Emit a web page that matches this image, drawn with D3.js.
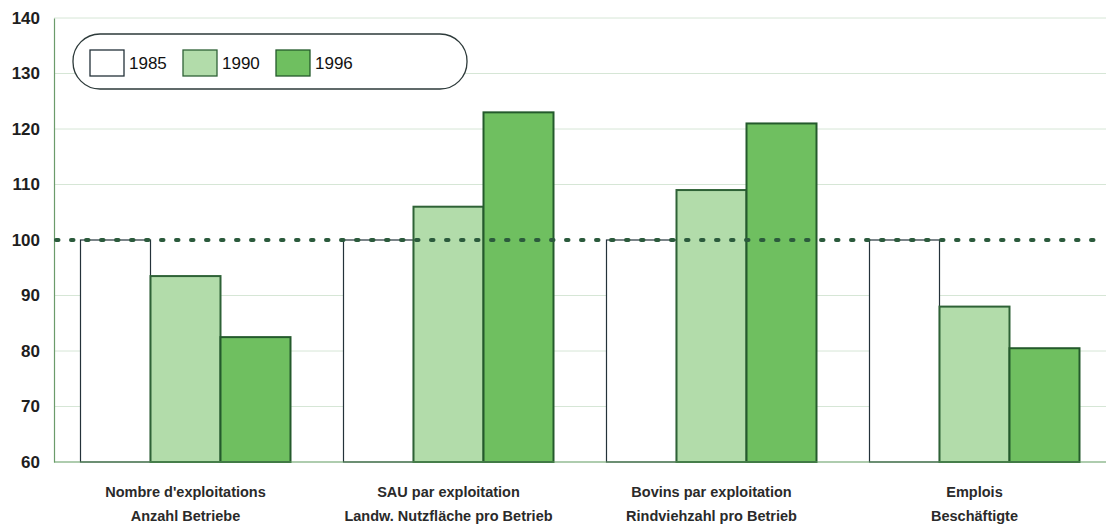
<!DOCTYPE html>
<html>
<head>
<meta charset="utf-8">
<script src="https://cdn.jsdelivr.net/npm/d3@7"></script>
<style>
  body { margin: 0; background: #fff; }
  svg { display: block; font-family: "Liberation Sans", Arial, sans-serif; }
</style>
</head>
<body>
<div id="chart"></div>
<script>
var categories = [
  ["Nombre d'exploitations", "Anzahl Betriebe"],
  ["SAU par exploitation", "Landw. Nutzfläche pro Betrieb"],
  ["Bovins par exploitation", "Rindviehzahl pro Betrieb"],
  ["Emplois", "Beschäftigte"]
];
var years = ["1985", "1990", "1996"];
var values1985 = [100, 100, 100, 100];
var values1990 = [93.5, 106, 109, 88];
var values1996 = [82.5, 123, 121, 80.5];
var yTicks = [60, 70, 80, 90, 100, 110, 120, 130, 140];

var width = 1106, height = 529;
var mLeft = 54, mRight = 1106, mTop = 18, mBottom = 462;

var colors = { "1985": "#ffffff", "1990": "#b2dcaa", "1996": "#6fbf60" };
var strokes = { "1985": "#24323a", "1990": "#2e6236", "1996": "#245a2c" };

var series = [values1985, values1990, values1996];
var data = categories.map(function (c, i) {
  return { label: c, vals: years.map(function (y, j) { return { year: y, v: series[j][i] }; }) };
});

var svg = d3.select("#chart").append("svg")
  .attr("width", width).attr("height", height);

var y = d3.scaleLinear().domain([60, 140]).range([mBottom, mTop]);
var x0 = d3.scaleBand().domain(d3.range(categories.length)).range([mLeft, mRight]);
var x1 = d3.scaleBand().domain(years).range([26.5, x0.bandwidth() - 26.5]).padding(0);

// faint grid
svg.append("g").selectAll("line")
  .data(yTicks.filter(function (t) { return t !== 60 && t !== 100; }))
  .join("line")
  .attr("x1", mLeft).attr("x2", mRight)
  .attr("y1", function (d) { return y(d); }).attr("y2", function (d) { return y(d); })
  .attr("stroke", "#d6e6d6").attr("stroke-width", 1);

// y axis
var yAxis = svg.append("g")
  .attr("transform", "translate(" + mLeft + ",0)")
  .call(d3.axisLeft(y).tickValues(yTicks).tickSize(0).tickPadding(14));
yAxis.select(".domain").attr("stroke", "#6b9b6b").attr("stroke-width", 1.2);
yAxis.selectAll("text")
  .attr("font-size", 17).attr("font-weight", "bold").attr("fill", "#1e1e1e")
  .attr("font-family", "Liberation Sans, Arial, sans-serif");

// bars
var groups = svg.append("g").selectAll("g")
  .data(data).join("g")
  .attr("transform", function (d, i) { return "translate(" + x0(i) + ",0)"; });

groups.selectAll("rect")
  .data(function (d) { return d.vals; })
  .join("rect")
  .attr("x", function (d) { return x1(d.year); })
  .attr("width", x1.bandwidth())
  .attr("y", function (d) { return y(d.v); })
  .attr("height", function (d) { return y(60) - y(d.v); })
  .attr("fill", function (d) { return colors[d.year]; })
  .attr("stroke", function (d) { return strokes[d.year]; })
  .attr("stroke-width", function (d) { return d.year === "1985" ? 1.2 : 2; });

// baseline
svg.append("line")
  .attr("x1", mLeft).attr("x2", mRight)
  .attr("y1", y(60)).attr("y2", y(60))
  .attr("stroke", "#5f9a5f").attr("stroke-width", 1.2);

// reference line at 100
svg.append("line")
  .attr("x1", mLeft + 2).attr("x2", mRight)
  .attr("y1", y(100)).attr("y2", y(100))
  .attr("stroke", "#2b5a3c").attr("stroke-width", 4)
  .attr("stroke-linecap", "round")
  .attr("stroke-dasharray", "2.5 12.5");

// category labels
groups.append("text")
  .attr("x", x0.bandwidth() / 2)
  .attr("text-anchor", "middle")
  .attr("font-size", 14.5).attr("font-weight", "bold").attr("fill", "#2a2a2a")
  .selectAll("tspan")
  .data(function (d) { return d.label; })
  .join("tspan")
  .attr("x", x0.bandwidth() / 2)
  .attr("y", function (d, i) { return 497 + i * 24; })
  .text(function (d) { return d; });

// legend
var legend = svg.append("g");
legend.append("rect")
  .attr("x", 73).attr("y", 34).attr("width", 394).attr("height", 55)
  .attr("rx", 27).attr("ry", 27)
  .attr("fill", "#fff").attr("stroke", "#2d3a3a").attr("stroke-width", 1.3);
var legendX = [90, 183, 276];
var items = legend.selectAll("g.item").data(years).join("g")
  .attr("class", "item")
  .attr("transform", function (d, i) { return "translate(" + legendX[i] + ",50)"; });
items.append("rect")
  .attr("width", 34).attr("height", 26)
  .attr("fill", function (d) { return colors[d]; })
  .attr("stroke", function (d) { return strokes[d]; })
  .attr("stroke-width", 1.3);
items.append("text")
  .attr("x", 39).attr("y", 19)
  .attr("font-size", 17).attr("fill", "#111")
  .text(function (d) { return d; });
</script>
</body>
</html>
